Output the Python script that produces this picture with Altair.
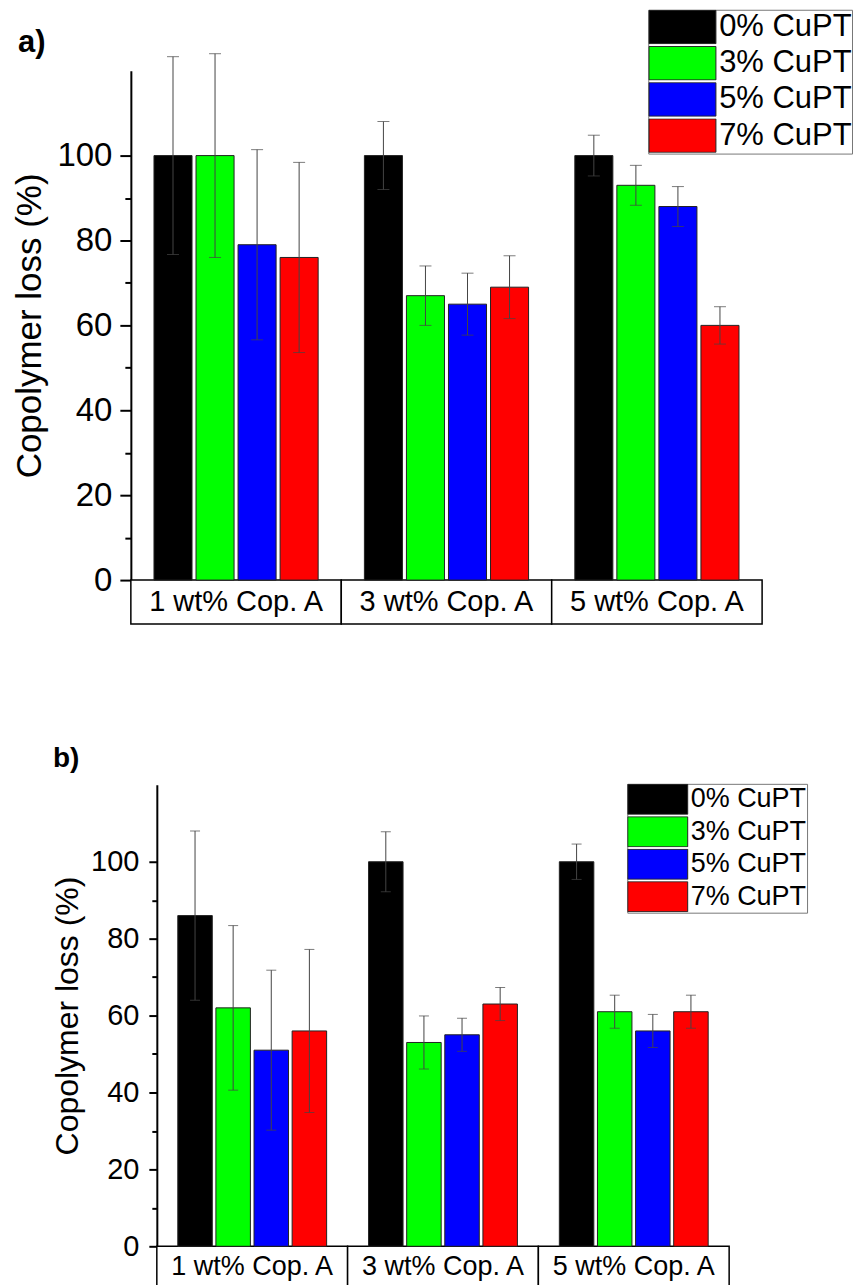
import altair as alt
import pandas as pd

FONT = "Liberation Sans"

groups = ["1 wt% Cop. A", "3 wt% Cop. A", "5 wt% Cop. A"]
series = ["0% CuPT", "3% CuPT", "5% CuPT", "7% CuPT"]
colors = ["#000000", "#00ff00", "#0000ff", "#ff0000"]

# panel a) values per series (across groups) and error half-widths
a_vals = {
    "0% CuPT": [100, 100, 100],
    "3% CuPT": [100, 67, 93],
    "5% CuPT": [79, 65, 88],
    "7% CuPT": [76, 69, 60],
}
a_errs = {
    "0% CuPT": [23.3, 8.0, 4.8],
    "3% CuPT": [24.0, 7.0, 4.7],
    "5% CuPT": [22.4, 7.3, 4.7],
    "7% CuPT": [22.4, 7.4, 4.4],
}

# panel b)
b_vals = {
    "0% CuPT": [86, 100, 100],
    "3% CuPT": [62, 53, 61],
    "5% CuPT": [51, 55, 56],
    "7% CuPT": [56, 63, 61],
}
b_errs = {
    "0% CuPT": [22.0, 7.8, 4.6],
    "3% CuPT": [21.4, 6.9, 4.3],
    "5% CuPT": [20.8, 4.3, 4.3],
    "7% CuPT": [21.2, 4.3, 4.3],
}

y_ticks = [0, 10, 20, 30, 40, 50, 60, 70, 80, 90, 100]


def to_df(vals, errs):
    rows = []
    for s in series:
        for g, v, e in zip(groups, vals[s], errs[s]):
            rows.append({"group": g, "series": s, "value": v, "lo": v - e, "hi": v + e})
    return pd.DataFrame(rows)


gdf = pd.DataFrame({"group": groups})


def panel(df, width, height, box_h, x_range, axis_offset, fs_tick, fs_title,
          fs_group, tick_major, tick_minor, label_pad, title_pad, cap,
          leg_x, leg_y, sym_h, row_pad, fs_leg, tag, tag_x, tag_y, fs_tag):
    xscale = alt.Scale(domain=groups, range=x_range, paddingInner=0, paddingOuter=0)
    x = alt.X("group:N", scale=xscale, axis=None, sort=groups)
    xo = alt.XOffset("series:N", sort=series,
                     scale=alt.Scale(domain=series, paddingInner=0.095, paddingOuter=0.55))
    yaxis = alt.Axis(
        values=y_ticks,
        labelExpr="datum.value % 20 === 0 ? datum.label : ''",
        tickSize={"condition": {"test": "datum.value % 20 === 0", "value": tick_major},
                  "value": tick_minor},
        tickWidth=2, tickColor="black", domainColor="black", domainWidth=2,
        labelFont=FONT, labelFontSize=fs_tick, labelColor="black",
        labelPadding=label_pad, titleFont=FONT, titleFontSize=fs_title,
        titleFontWeight="normal", titleColor="black", titlePadding=title_pad,
        grid=False, offset=axis_offset,
    )
    yscale = alt.Scale(domain=[0, 120], nice=False, zero=True)
    ytitle = "Copolymer loss (%)"
    # swatch: twice as wide as tall; layout size = swatch height
    color = alt.Color(
        "series:N", sort=series,
        scale=alt.Scale(domain=series, range=colors),
        legend=alt.Legend(
            orient="none", legendX=leg_x, legendY=leg_y, title=None,
            symbolType="M-2,-1H2V1H-2Z", symbolSize=sym_h * sym_h,
            symbolOffset=sym_h / 2, labelOffset=sym_h / 2 + 2.5,
            symbolStrokeColor="#222", symbolStrokeWidth=1, symbolOpacity=1,
            rowPadding=row_pad, clipHeight=sym_h + 1,
            labelFont=FONT, labelFontSize=fs_leg, labelColor="black",
            padding=0, strokeColor="#777", fillColor="white", labelLimit=300,
        ),
    )
    base = alt.Chart(df)
    bars = base.mark_bar(stroke="#222", strokeWidth=1).encode(
        x=x, xOffset=xo,
        y=alt.Y("value:Q", scale=yscale, axis=yaxis, title=ytitle),
        color=color,
    )
    rule = base.mark_rule(color="#444", strokeWidth=1).encode(
        x=x, xOffset=xo,
        y=alt.Y("lo:Q", scale=yscale, axis=yaxis, title=ytitle),
        y2="hi:Q",
    )
    cap_hi = base.mark_tick(color="#444", size=cap, thickness=1, orient="horizontal").encode(
        x=x, xOffset=xo, y=alt.Y("hi:Q", scale=yscale, axis=yaxis, title=ytitle),
    )
    cap_lo = base.mark_tick(color="#444", size=cap, thickness=1, orient="horizontal").encode(
        x=x, xOffset=xo, y=alt.Y("lo:Q", scale=yscale, axis=yaxis, title=ytitle),
    )
    box = alt.Chart(gdf).mark_rect(fill="white", stroke="black", strokeWidth=1.5).encode(
        x=x, y=alt.value(height), y2=alt.value(height + box_h),
    )
    txt = alt.Chart(gdf).mark_text(font=FONT, fontSize=fs_group, color="black",
                                   baseline="middle", align="center").encode(
        x=x, y=alt.value(height + box_h / 2), text="group:N",
    )
    tag_df = pd.DataFrame({"tag": [tag]})
    tag_mark = alt.Chart(tag_df).mark_text(
        font=FONT, fontSize=fs_tag, fontWeight="bold", color="black",
        align="left", baseline="middle",
    ).encode(x=alt.value(tag_x), y=alt.value(tag_y), text="tag:N")
    return alt.layer(box, txt, bars, rule, cap_hi, cap_lo, tag_mark).properties(
        width=width, height=height,
    )


chart_a = panel(to_df(a_vals, a_errs), 632, 510, 44, [0, 632], 0, 33, 35, 29,
                11, 6, 8, 9, 12, 518, -61, 33.5, 1.25, 31, "a)", -113, -28, 31)
chart_b = panel(to_df(b_vals, b_errs), 599, 462, 41, [26, 599], -26, 29, 32, 27,
                8, 5, 10, 6, 10, 497, -1, 30, 1.5, 27, "b)", -78, -26, 28)

chart = alt.vconcat(chart_a, chart_b, spacing=120).resolve_scale(
    x="independent", y="independent", color="independent", xOffset="independent"
).resolve_legend(color="independent").configure_view(strokeWidth=0).properties(
    padding={"left": 4, "top": 0, "right": 0, "bottom": 0}
)

chart.save("out.html", embed_options={"renderer": "svg", "actions": False})
